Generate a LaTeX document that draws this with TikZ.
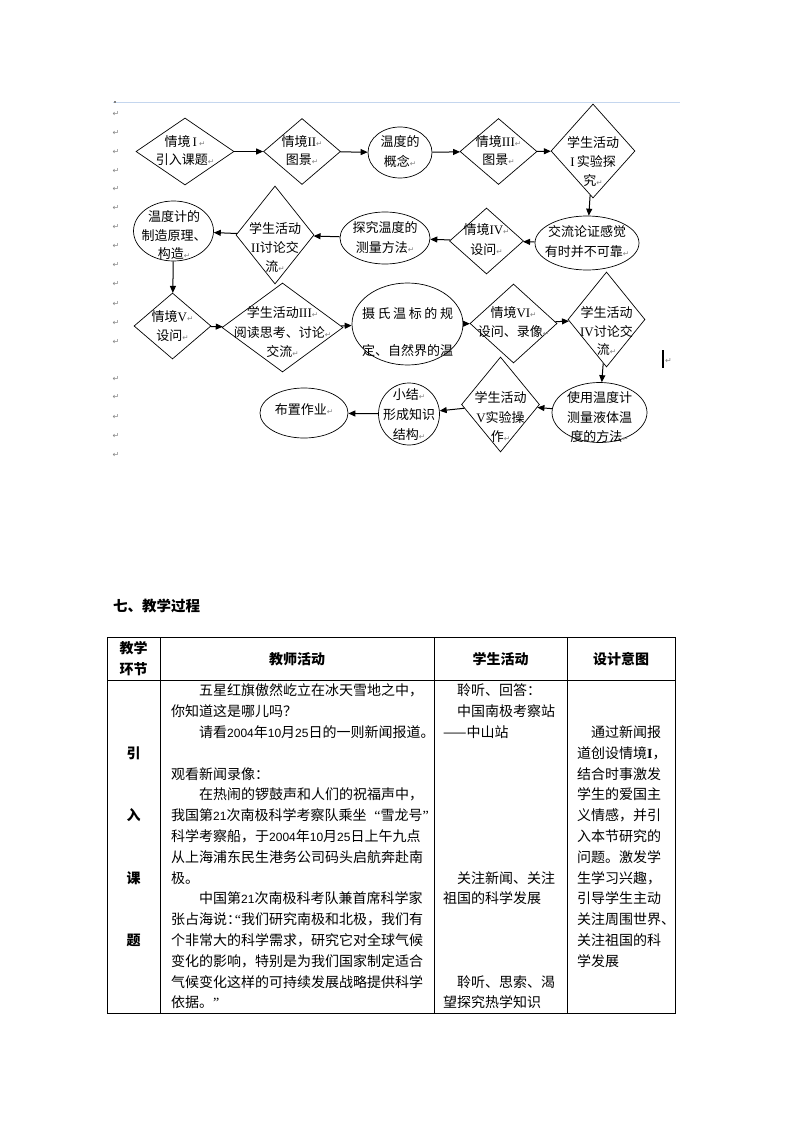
\documentclass[tikz,border=0pt]{standalone}
\usepackage{fontspec}
\setmainfont{Noto Sans CJK SC}
\newfontfamily\lat{Liberation Serif}
\newfontfamily\latsans{Liberation Sans}
\newfontfamily\djv{DejaVu Sans}
\usetikzlibrary{shapes.geometric,arrows.meta}
\definecolor{pmgray}{RGB}{130,130,130}
\definecolor{rulerblue}{RGB}{196,214,238}
\newcommand{\pmk}{{\djv\fontsize{7.5}{7.5}\selectfont\color{pmgray}↵}}
\newcommand{\rn}[1]{{\lat #1}}
\newcommand{\dg}[1]{{\latsans\fontsize{12}{12}\selectfont #1}}
\newcommand{\oq}{\makebox[14pt][r]{\lat “}}
\newcommand{\cq}{\makebox[14pt][l]{\lat ”}}
\newcommand{\trow}[4]{\node[tl] (#1) at (#2,{695.8+20.8*#3}) {#4};}
\begin{document}
\begin{tikzpicture}[x=1pt,y=-1pt,
  dia/.style={draw=black,diamond,inner sep=0pt,line width=0.7pt},
  ell/.style={draw=black,ellipse,inner sep=0pt,line width=0.7pt},
  fl/.style={font=\fontsize{13}{13}\selectfont,inner sep=0pt,anchor=base},
  arr/.style={-{Triangle[length=7pt,width=6pt]},line width=1pt},
  tl/.style={font=\fontsize{14}{14}\selectfont,inner sep=0pt,anchor=base west},
  th/.style={font=\fontsize{14}{14}\selectfont\bfseries,inner sep=0pt,anchor=base},
  pm/.style={inner sep=0pt,font=\djv\fontsize{8}{8}\selectfont,text=pmgray},
  grid/.style={line width=0.9pt}
]
\useasboundingbox (0,0) rectangle (794,1123);
% ruler line and margin marks
\draw[rulerblue,line width=1pt] (113,102.5) -- (680,102.5);
\fill[pmgray] (114,101.5) rectangle (115.8,103.5);
\foreach \yy [count=\i] in {114,133,152,171,189,208,227,246,265,284,304,323,342,379,397,417,436,455}
  \node[pm] (m\i) at (116,\yy) {↵};
\draw[line width=1.1pt] (663,350) -- (663,368);
\node[pm] (mc) at (668.5,361) {↵};

% ---------- flowchart shapes ----------
\node[dia,minimum width=98pt,minimum height=67pt] (d1) at (185,151.5) {};
\node[dia,minimum width=77pt,minimum height=66pt] (d2) at (302,151.5) {};
\node[ell,minimum width=64pt,minimum height=51pt] (e1) at (400,152.5) {};
\node[dia,minimum width=77pt,minimum height=66pt] (d3) at (498.5,151.5) {};
\node[dia,minimum width=84pt,minimum height=94pt] (d4) at (593,151) {};

\node[ell,minimum width=104pt,minimum height=54pt] (e2) at (587,243) {};
\node[dia,minimum width=74pt,minimum height=66pt] (d5) at (486.5,241) {};
\node[ell,minimum width=90pt,minimum height=52pt] (e3) at (385,238) {};
\node[dia,minimum width=78pt,minimum height=98pt] (d6) at (275,235) {};
\node[ell,minimum width=80pt,minimum height=60pt] (e4) at (173.5,231) {};

\node[dia,minimum width=77pt,minimum height=66pt] (d7) at (172.5,326) {};
\node[dia,minimum width=121pt,minimum height=89pt] (d8) at (282.5,327.5) {};
\node[ell,minimum width=111pt,minimum height=82pt] (e5) at (407.5,324) {};
\node[dia,minimum width=87pt,minimum height=79pt] (d9) at (513.5,323.5) {};
\node[dia,minimum width=77pt,minimum height=95pt] (d10) at (606.5,319.5) {};

\node[ell,minimum width=95pt,minimum height=60pt] (e6) at (599.5,412.5) {};
\node[dia,minimum width=78pt,minimum height=95pt] (d11) at (500.5,404.5) {};
\node[ell,minimum width=61pt,minimum height=62pt] (e7) at (409,414) {};
\node[ell,minimum width=88pt,minimum height=50pt] (e8) at (304,413) {};

% ---------- flowchart texts ----------
\node[fl] (d1a) at (185,146.4) {情境\hspace{2pt}\rn{I}\hspace{2pt}\pmk};
\node[fl] (d1b) at (185,164.7) {引入课题\pmk};
\node[fl] (d2a) at (302,146.4) {情境\rn{II}\pmk};
\node[fl] (d2b) at (302,164.7) {图景\pmk};
\node[fl] (e1a) at (400,146.7) {温度的};
\node[fl] (e1b) at (400,166.2) {概念\pmk};
\node[fl] (d3a) at (498.5,146.4) {情境\rn{III}\pmk};
\node[fl] (d3b) at (498.5,164.7) {图景\pmk};
\node[fl] (d4a) at (593,147.7) {学生活动};
\node[fl] (d4b) at (593,166.7) {\rn{I}\,实验探};
\node[fl] (d4c) at (593,185.7) {究\pmk};

\node[fl] (e2a) at (587,236.7) {交流论证感觉};
\node[fl] (e2b) at (587,256.7) {有时并不可靠\pmk};
\node[fl] (d5a) at (486.5,234.7) {情境\rn{IV}\pmk};
\node[fl] (d5b) at (486.5,254.7) {设问\pmk};
\node[fl] (e3a) at (385,232.7) {探究温度的};
\node[fl] (e3b) at (385,252.7) {测量方法\pmk};
\node[fl] (d6a) at (275,233.7) {学生活动};
\node[fl] (d6b) at (275,252.7) {\rn{II}讨论交};
\node[fl] (d6c) at (275,271.7) {流\pmk};
\node[fl] (e4a) at (174,221.5) {温度计的};
\node[fl] (e4b) at (174,240.5) {制造原理、};
\node[fl] (e4c) at (174,258.5) {构造\pmk};

\node[fl] (d7a) at (172.5,321.7) {情境\rn{V}\pmk};
\node[fl] (d7b) at (172.5,340.7) {设问\pmk};
\node[fl] (d8a) at (282.5,317.7) {学生活动\rn{III}\pmk};
\node[fl] (d8b) at (282.5,337.7) {阅读思考、讨论\pmk};
\node[fl] (d8c) at (282.5,356.7) {交流\pmk};
\node[fl] (e5a) at (407.5,318.7) {\makebox[91pt][s]{摄\hfill 氏\hfill 温\hfill 标\hfill 的\hfill 规}};
\node[fl] (e5b) at (407.5,355.7) {\makebox[91pt][s]{定、\hfill 自然界的温}};
\node[fl] (d9a) at (513.5,317.7) {情境\rn{VI}\pmk};
\node[fl] (d9b) at (513.5,336.7) {设问、录像\pmk};
\node[fl] (d10a) at (606.5,317.7) {学生活动};
\node[fl] (d10b) at (606.5,336.7) {\rn{IV}讨论交};
\node[fl] (d10c) at (606.5,354.7) {流\pmk};

\node[fl] (e6a) at (599.5,402.7) {使用温度计};
\node[fl] (e6b) at (599.5,422.2) {测量液体温};
\node[fl] (e6c) at (599.5,441) {度的方法\pmk};
\node[fl] (d11a) at (500.5,402.7) {学生活动};
\node[fl] (d11b) at (500.5,422.7) {\rn{V}实验操};
\node[fl] (d11c) at (500.5,441.7) {作\pmk};
\node[fl] (e7a) at (409,399.7) {小结\pmk};
\node[fl] (e7b) at (409,419.7) {形成知识};
\node[fl] (e7c) at (409,439.2) {结构\pmk};
\node[fl] (e8a) at (304,414.7) {布置作业\pmk};

% ---------- connectors ----------
\draw[arr] (d1) -- (d2);
\draw[arr] (d2) -- (e1);
\draw[arr] (e1) -- (d3);
\draw[arr] (d3) -- (d4);
\draw[arr] (d4) -- (e2);
\draw[arr] (e2) -- (d5);
\draw[arr] (d5) -- (e3);
\draw[arr] (e3) -- (d6);
\draw[arr] (d6) -- (e4);
\draw[arr] (e4) -- (d7);
\draw[arr] (d7) -- (d8);
\draw[arr] (d8) -- (e5);
\draw[arr] (e5) -- (d9);
\draw[arr] (d9) -- (d10);
\draw[arr] (d10) -- (e6);
\draw[arr] (e6) -- (d11);
\draw[arr] (d11) -- (e7);
\draw[arr] (e7) -- (e8);

% ---------- heading ----------
\node[font=\fontsize{14.5}{14.5}\selectfont\bfseries,anchor=base west,inner sep=0pt] (h7) at (113,611.5) {七、教学过程};

% ---------- table ----------
\draw[grid] (107,637) rectangle (675,1013);
\draw[grid] (107,680) -- (675,680);
\draw[grid] (160,637) -- (160,1013);
\draw[grid] (434,637) -- (434,1013);
\draw[grid] (567,637) -- (567,1013);

\node[th] (hA1) at (133.5,653.3) {教学};
\node[th] (hA2) at (133.5,674.3) {环节};
\node[th] (hB) at (297,664.3) {教师活动};
\node[th] (hC) at (500.5,664.3) {学生活动};
\node[th] (hD) at (621,664.3) {设计意图};

\node[th] (c1a) at (133.5,{695.8+20.8*3}) {引};
\node[th] (c1b) at (133.5,{695.8+20.8*6}) {入};
\node[th] (c1c) at (133.5,{695.8+20.8*9}) {课};
\node[th] (c1d) at (133.5,{695.8+20.8*12}) {题};

\trow{t0}{199}{0}{五星红旗傲然屹立在冰天雪地之中，}
\trow{t1}{171}{1}{你知道这是哪儿吗？}
\trow{t2}{199}{2}{请看\dg{2004}年\dg{10}月\dg{25}日的一则新闻报道。}
\trow{t4}{171}{4}{观看新闻录像：}
\trow{t5}{199}{5}{在热闹的锣鼓声和人们的祝福声中，}
\trow{t6}{171}{6}{我国第\dg{21}次南极科学考察队乘坐\oq 雪龙号\cq}
\trow{t7}{171}{7}{科学考察船，于\dg{2004}年\dg{10}月\dg{25}日上午九点}
\trow{t8}{171}{8}{从上海浦东民生港务公司码头启航奔赴南}
\trow{t9}{171}{9}{极。}
\trow{t10}{199}{10}{中国第\dg{21}次南极科考队兼首席科学家}
\trow{t11}{171}{11}{张占海说\makebox[7pt][l]{：}\makebox[7pt][r]{\lat “}我们研究南极和北极，我们有}
\trow{t12}{171}{12}{个非常大的科学需求，研究它对全球气候}
\trow{t13}{171}{13}{变化的影响，特别是为我们国家制定适合}
\trow{t14}{171}{14}{气候变化这样的可持续发展战略提供科学}
\trow{t15}{171}{15}{依据。\cq}

\trow{s0}{457}{0}{聆听、回答：}
\trow{s1}{457}{1}{中国南极考察站}
\trow{s2}{443}{2}{——中山站}
\trow{s9}{457}{9}{关注新闻、关注}
\trow{s10}{443}{10}{祖国的科学发展}
\trow{s14}{457}{14}{聆听、思索、渴}
\trow{s15}{443}{15}{望探究热学知识}

\trow{p2}{591}{2}{通过新闻报}
\trow{p3}{577}{3}{道创设情境{\lat\bfseries I}，}
\trow{p4}{577}{4}{结合时事激发}
\trow{p5}{577}{5}{学生的爱国主}
\trow{p6}{577}{6}{义情感，并引}
\trow{p7}{577}{7}{入本节研究的}
\trow{p8}{577}{8}{问题。激发学}
\trow{p9}{577}{9}{生学习兴趣，}
\trow{p10}{577}{10}{引导学生主动}
\trow{p11}{577}{11}{关注周围世界、}
\trow{p12}{577}{12}{关注祖国的科}
\trow{p13}{577}{13}{学发展}
\end{tikzpicture}
\end{document}
